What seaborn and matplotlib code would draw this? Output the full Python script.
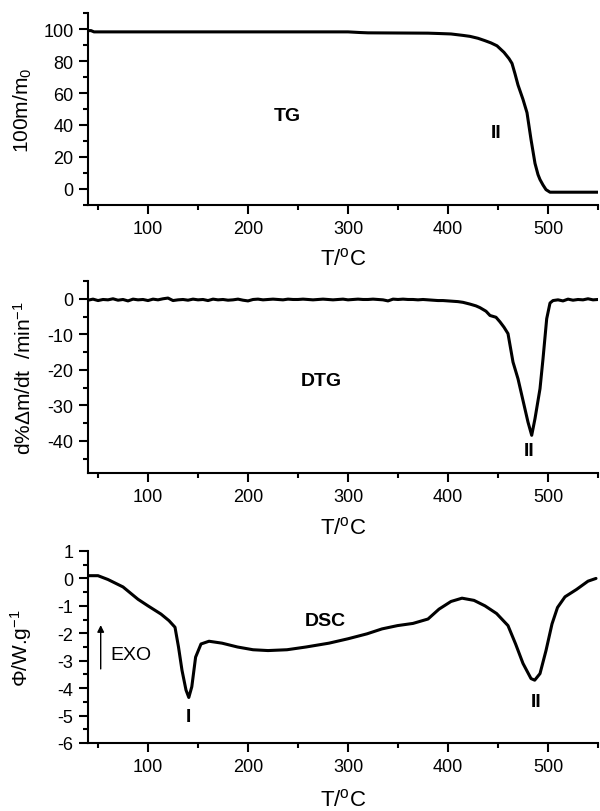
import numpy as np
import pandas as pd
import seaborn as sns
import matplotlib
matplotlib.use("Agg")
import matplotlib.pyplot as plt
from matplotlib.ticker import MultipleLocator

# ---------------- data ----------------
tg_T = [40, 43, 46, 60, 100, 150, 200, 250, 300, 312, 320, 350, 380, 390, 403,
        415, 422, 430, 437, 443, 449, 456, 461, 464, 467, 470, 475, 479, 483,
        487, 490, 492, 495, 498, 502, 510, 530, 550]
tg_val = [99.0, 99.0, 98.2, 98.2, 98.2, 98.2, 98.2, 98.2, 98.2, 97.8, 97.6, 97.5,
          97.4, 97.2, 96.9, 96.0, 95.4, 94.2, 92.7, 91.3, 89.5, 85.4, 81.5, 78.5,
          72.0, 65.0, 56.0, 47.7, 31.0, 16.0, 9.0, 5.9, 2.5, -0.4, -2.0, -2.0,
          -2.0, -2.0]

dtg_T = [40, 45, 50, 55, 60, 65, 70, 75, 80, 85, 90, 95, 100, 105, 110, 115, 120,
         125, 130, 135, 140, 145, 150, 155, 160, 165, 170, 175, 180, 185, 190, 195,
         200, 205, 210, 215, 220, 225, 230, 235, 240, 245, 250, 255, 260, 265, 270,
         275, 280, 285, 290, 295, 300, 305, 310, 315, 320, 325, 330, 335, 340, 345,
         350, 355, 360, 365, 370, 375, 380, 385, 390, 395, 400, 405, 410, 415, 422,
         428, 432, 438, 442, 448, 452, 456, 460, 465, 470, 475, 480, 483.7, 487,
         492, 495, 498.7, 502, 505, 510, 515, 520, 525, 530, 535, 540, 545, 550]
dtg_val = [-0.4, -0.1, -0.5, -0.2, -0.3, 0.0, -0.4, -0.2, -0.6, -0.1, -0.3, -0.2,
           -0.5, -0.1, -0.3, 0.0, 0.2, -0.5, -0.3, -0.2, -0.4, -0.1, -0.3, -0.2,
           -0.5, -0.1, -0.3, -0.2, -0.4, -0.3, -0.1, -0.4, -0.6, -0.2, -0.1, -0.3,
           -0.2, -0.1, -0.2, -0.3, -0.1, -0.2, -0.2, -0.1, -0.2, -0.3, -0.2, -0.1,
           -0.2, -0.3, -0.2, -0.1, -0.3, -0.2, -0.1, -0.2, -0.2, -0.1, -0.2, -0.3,
           -0.6, -0.1, -0.2, -0.1, -0.2, -0.2, -0.3, -0.2, -0.3, -0.4, -0.5, -0.5,
           -0.6, -0.7, -0.8, -1.0, -1.5, -2.0, -2.5, -3.5, -4.7, -5.2, -6.5, -8.0,
           -9.8, -17.8, -22.5, -28.6, -34.7, -38.4, -33.7, -25.3, -16.9, -5.6,
           -1.2, -0.5, -0.3, -0.6, -0.1, -0.4, -0.2, -0.3, 0.0, -0.3, -0.2]

dsc_T = [40, 50, 60, 75, 90, 100, 113, 121, 127, 130.5, 134, 138, 140.8, 143.8,
         147.6, 153, 161, 174, 189.5, 205, 220, 239, 258, 281, 300, 319, 334, 349.5,
         365, 380, 391, 403, 414, 426, 437, 448.6, 460, 467.6, 475, 483, 486.7, 492,
         498, 504, 509.5, 517, 528.6, 540, 548]
dsc_val = [0.1, 0.1, -0.04, -0.31, -0.76, -1.0, -1.3, -1.54, -1.78, -2.5, -3.35,
           -4.07, -4.34, -3.95, -2.87, -2.39, -2.29, -2.36, -2.5, -2.6, -2.63, -2.6,
           -2.5, -2.36, -2.2, -2.02, -1.84, -1.72, -1.64, -1.48, -1.12, -0.84, -0.72,
           -0.8, -1.0, -1.28, -1.72, -2.39, -3.1, -3.65, -3.71, -3.47, -2.63, -1.66,
           -1.06, -0.67, -0.4, -0.1, 0.0]

x_label = "T/$\\mathregular{^o}$C"
y_labels = ["100m/m$\\mathregular{_0}$",
            "d%\u0394m/dt  /min$\\mathregular{^{-1}}$",
            "\u03a6/W.g$\\mathregular{^{-1}}$"]

# ---------------- style ----------------
sns.set_style("ticks")
plt.rcParams["font.family"] = ["Liberation Sans", "DejaVu Sans"]
plt.rcParams["mathtext.fontset"] = "custom"
plt.rcParams["mathtext.rm"] = "Liberation Sans"
plt.rcParams["mathtext.it"] = "Liberation Sans:italic"
plt.rcParams["mathtext.bf"] = "Liberation Sans:bold"
plt.rcParams["axes.unicode_minus"] = False
for k in ["text.color", "axes.labelcolor", "xtick.color", "ytick.color",
          "axes.edgecolor"]:
    plt.rcParams[k] = "black"

fig = plt.figure(figsize=(6.0, 8.12), dpi=100)
left, width, height = 88 / 600, 510 / 600, 192 / 812
bottoms = [1 - 206 / 812, 1 - 474 / 812, 1 - 744 / 812]
axes = [fig.add_axes([left, b, width, height]) for b in bottoms]

frames = [pd.DataFrame({"T": tg_T, "v": tg_val}),
          pd.DataFrame({"T": dtg_T, "v": dtg_val}),
          pd.DataFrame({"T": dsc_T, "v": dsc_val})]
ylims = [(-10, 110), (-49, 5), (-6, 1)]
ymaj = [20, 10, 1]
ymin = [10, 5, 0.5]
xlab_y = [-0.22, -0.225, -0.235]

for ax, df, yl, ma, mi, yl_txt, xly in zip(axes, frames, ylims, ymaj, ymin,
                                          y_labels, xlab_y):
    sns.lineplot(data=df, x="T", y="v", ax=ax, color="black", lw=2.2,
                 estimator=None, sort=False)
    ax.set_xlim(40, 550)
    ax.set_ylim(*yl)
    ax.xaxis.set_major_locator(MultipleLocator(100))
    ax.xaxis.set_minor_locator(MultipleLocator(50))
    ax.yaxis.set_major_locator(MultipleLocator(ma))
    ax.yaxis.set_minor_locator(MultipleLocator(mi))
    for s in ["top", "right"]:
        ax.spines[s].set_visible(False)
    for s in ["left", "bottom"]:
        ax.spines[s].set_linewidth(1.5)
    ax.tick_params(which="major", direction="out", length=6.5, width=1.5,
                   labelsize=13, pad=4, colors="black")
    ax.tick_params(which="minor", direction="out", length=3.5, width=1.5,
                   colors="black")
    ax.set_xlabel(x_label, fontsize=16)
    ax.set_ylabel(yl_txt, fontsize=15)
    ax.xaxis.set_label_coords(0.5, xly)
    ax.yaxis.set_label_coords(-0.105, 0.5)
    ax.xaxis.label.set_va("top")

# annotations
ann = dict(fontsize=14, fontweight="bold", ha="center", va="center")
axes[0].text(239, 46, "TG", **ann)
axes[0].text(448, 35, "II", **ann)
axes[1].text(273, -23, "DTG", **ann)
axes[1].text(481, -42.7, "II", **ann)
axes[2].text(277, -1.54, "DSC", **ann)
axes[2].text(140, -5.04, "I", **ann)
axes[2].text(488.6, -4.5, "II", **ann)
axes[2].text(62, -2.77, "EXO", fontsize=14, ha="left", va="center")
axes[2].annotate("", xy=(52.7, -1.6), xytext=(52.7, -3.4),
                 arrowprops=dict(arrowstyle="-|>", color="black", lw=1.0,
                                 mutation_scale=10))

fig.savefig("out.png", dpi=100)
